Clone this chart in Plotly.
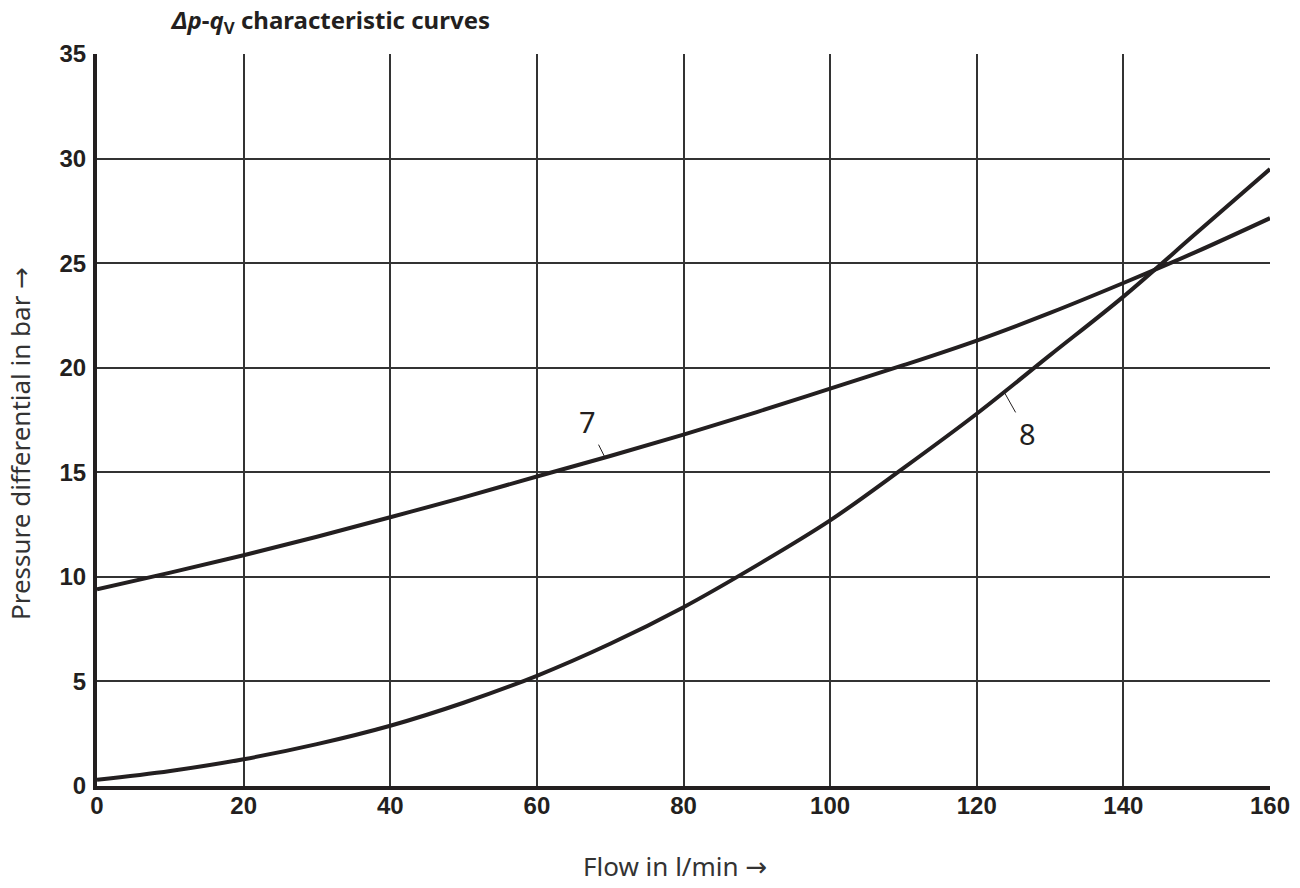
import plotly.graph_objects as go

flow = [0, 10, 20, 30, 40, 50, 60, 70, 80, 90, 100, 110, 120, 130, 140, 150, 160]
dp_7 = [9.4, 10.2, 11.03, 11.92, 12.85, 13.8, 14.8, 15.78, 16.8, 17.88, 19.0, 20.12, 21.3, 22.62, 24.05, 25.55, 27.15]
dp_8 = [0.3, 0.72, 1.28, 2.0, 2.88, 3.98, 5.27, 6.8, 8.55, 10.55, 12.7, 15.2, 17.8, 20.6, 23.4, 26.45, 29.5]

x_ticks = [0, 20, 40, 60, 80, 100, 120, 140, 160]
y_ticks = [0, 5, 10, 15, 20, 25, 30, 35]

ink = "#231f20"
tick_font = dict(family="Liberation Sans Narrow, Liberation Sans, Arial", size=24,
                 color=ink, weight="bold")

W, H = 1300, 888
ML, MR, MT, MB = 97, 30, 54, 102

fig = go.Figure()
for ys, name in [(dp_7, "7"), (dp_8, "8")]:
    fig.add_trace(go.Scatter(x=flow, y=ys, mode="lines", name=name,
                             line=dict(color=ink, width=4, shape="spline", smoothing=1),
                             showlegend=False, hoverinfo="skip"))

fig.update_layout(
    width=W, height=H,
    margin=dict(l=ML, r=MR, t=MT, b=MB, autoexpand=False),
    paper_bgcolor="white", plot_bgcolor="white",
    xaxis=dict(range=[0, 160], tickvals=x_ticks, ticktext=[str(v) for v in x_ticks],
               showgrid=True, gridcolor="#333333", gridwidth=1.5,
               showline=True, linecolor=ink, linewidth=4, zeroline=False,
               ticks="", tickfont=tick_font, ticklabelstandoff=-5, automargin=False),
    yaxis=dict(range=[0, 35], tickvals=y_ticks, ticktext=[str(v) for v in y_ticks],
               showgrid=True, gridcolor="#333333", gridwidth=1.5,
               showline=True, linecolor=ink, linewidth=4, zeroline=False,
               ticks="", tickfont=tick_font, ticklabelstandoff=2, automargin=False),
)

def px_to_paper_x(px):
    return (px - ML) / (W - ML - MR)

def px_to_paper_y(py):
    return (H - MB - py) / (H - MT - MB)

title_font = dict(family="Noto Sans", size=24, color=ink)
fig.add_annotation(xref="paper", yref="paper", x=px_to_paper_x(168), y=px_to_paper_y(21),
                   xanchor="left", yanchor="middle", showarrow=False,
                   text="<b><i>Δp</i>-<i>q</i><sub>V</sub> characteristic curves</b>",
                   font=title_font)

axis_title_font = dict(family="Noto Sans", size=26, color="#333333")
arrow_span = '<span style="font-family:DejaVu Sans">→</span>'
fig.add_annotation(xref="paper", yref="paper", x=px_to_paper_x(675), y=px_to_paper_y(866),
                   xanchor="center", yanchor="middle", showarrow=False,
                   text="Flow in l/min " + arrow_span, font=axis_title_font)
fig.add_annotation(xref="paper", yref="paper", x=px_to_paper_x(20), y=px_to_paper_y(444),
                   xanchor="center", yanchor="middle", showarrow=False, textangle=-90,
                   text="Pressure differential in bar " + arrow_span, font=axis_title_font)

label_font = dict(family="Noto Sans", size=29, color=ink)
fig.add_annotation(x=69.3, y=15.7, text="7", showarrow=True, arrowhead=0,
                   arrowwidth=1, arrowcolor=ink, ax=-18, ay=-36, borderpad=3,
                   font=label_font)
fig.add_annotation(x=123.8, y=18.8, text="8", showarrow=True, arrowhead=0,
                   arrowwidth=1, arrowcolor=ink, ax=23, ay=41, borderpad=3,
                   font=label_font)

fig.write_html("out.html", config={"displayModeBar": False},
               post_script="document.body.style.margin='0';")
